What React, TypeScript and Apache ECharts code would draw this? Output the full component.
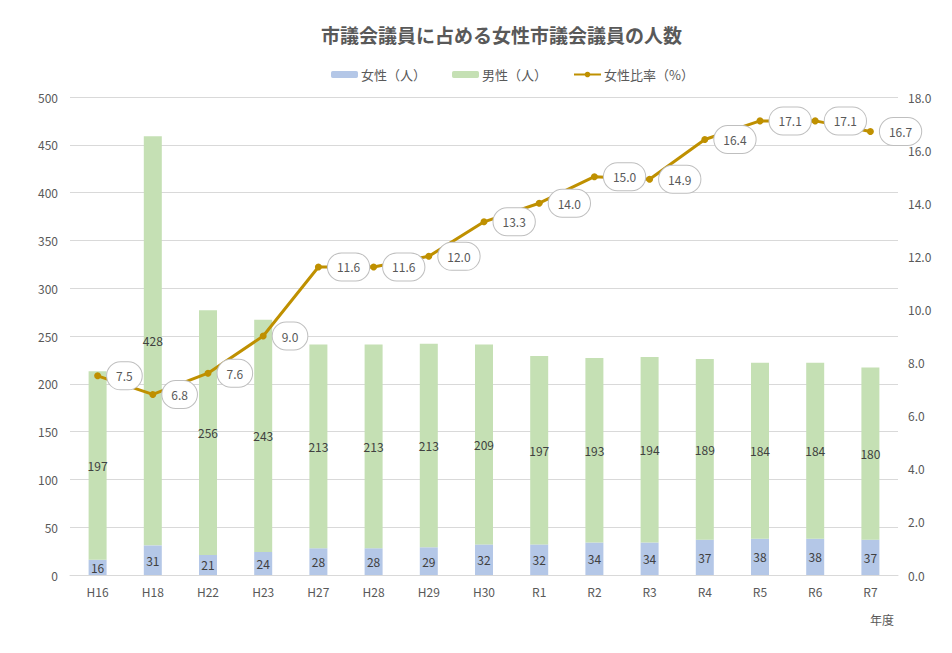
import React, { useEffect, useRef } from "react";
import * as echarts from "echarts";

const categories = ["H16", "H18", "H22", "H23", "H27", "H28", "H29", "H30", "R1", "R2", "R3", "R4", "R5", "R6", "R7"];
const female = [16, 31, 21, 24, 28, 28, 29, 32, 32, 34, 34, 37, 38, 38, 37];
const male = [197, 428, 256, 243, 213, 213, 213, 209, 197, 193, 194, 189, 184, 184, 180];
const ratio = [7.5, 6.8, 7.6, 9.0, 11.6, 11.6, 12.0, 13.3, 14.0, 15.0, 14.9, 16.4, 17.1, 17.1, 16.7];

const FONT = "'Noto Sans CJK JP', 'Noto Sans', sans-serif";
const TXT = "#595959";

export default function App() {
  const ref = useRef<HTMLDivElement>(null);
  useEffect(() => {
    if (!ref.current) return;
    const chart = echarts.init(ref.current, null, { renderer: "svg" });
    chart.setOption({
      animation: false,
      textStyle: { fontFamily: FONT, color: TXT },
      title: {
        text: "市議会議員に占める女性市議会議員の人数",
        left: 316,
        top: 20,
        textStyle: { fontSize: 19, fontWeight: "bold", color: TXT, fontFamily: FONT },
      },
      legend: {
        left: 326,
        top: 63,
        itemWidth: 27,
        itemHeight: 7,
        itemGap: 26,
        textStyle: { fontSize: 13, color: TXT, fontFamily: FONT, padding: [0, 0, 0, -2] },
        data: ["女性（人）", "男性（人）", "女性比率（%）"],
      },
      grid: { left: 70, right: 54, top: 97, bottom: 78 },
      xAxis: {
        type: "category",
        data: categories,
        axisLine: { lineStyle: { color: "#D9D9D9" } },
        axisTick: { show: false },
        axisLabel: { color: TXT, fontSize: 12, margin: 10 },
      },
      yAxis: [
        {
          type: "value",
          min: 0,
          max: 500,
          interval: 50,
          axisLine: { show: false },
          axisTick: { show: false },
          axisLabel: { color: TXT, fontSize: 12, margin: 12 },
          splitLine: { lineStyle: { color: "#D9D9D9" } },
        },
        {
          type: "value",
          min: 0,
          max: 18,
          interval: 2,
          axisLine: { show: false },
          axisTick: { show: false },
          axisLabel: { color: TXT, fontSize: 12, margin: 10, formatter: (v: number) => v.toFixed(1) },
          splitLine: { show: false },
        },
      ],
      graphic: [
        {
          type: "text",
          left: 870,
          top: 613,
          style: { text: "年度", fontSize: 12, fill: TXT, fontFamily: FONT },
        },
      ],
      series: [
        {
          name: "女性（人）",
          type: "bar",
          stack: "total",
          barWidth: 18,
          data: female,
          itemStyle: { color: "#B4C7E7" },
          label: { show: true, position: "inside", color: "#404040", fontSize: 12, fontFamily: FONT },
        },
        {
          name: "男性（人）",
          type: "bar",
          stack: "total",
          barWidth: 18,
          data: male,
          itemStyle: { color: "#C5E0B4" },
          label: { show: true, position: "inside", color: "#404040", fontSize: 12, fontFamily: FONT },
        },
        {
          name: "女性比率（%）",
          type: "line",
          yAxisIndex: 1,
          data: ratio,
          symbol: "circle",
          symbolSize: 7,
          lineStyle: { color: "#BF9000", width: 3 },
          itemStyle: { color: "#BF9000" },
          label: {
            show: true,
            position: "right",
            distance: 6,
            formatter: (p: any) => Number(p.value).toFixed(1),
            color: TXT,
            fontSize: 12,
            fontFamily: FONT,
            backgroundColor: "#FFFFFF",
            borderColor: "#BFBFBF",
            borderWidth: 1,
            borderRadius: 14,
            padding: [8, 9, 7, 9],
          },
          z: 5,
        },
      ],
    });
    return () => chart.dispose();
  }, []);
  return <div ref={ref} style={{ position: "absolute", left: 0, top: 0, width: 952, height: 653 }} />;
}
